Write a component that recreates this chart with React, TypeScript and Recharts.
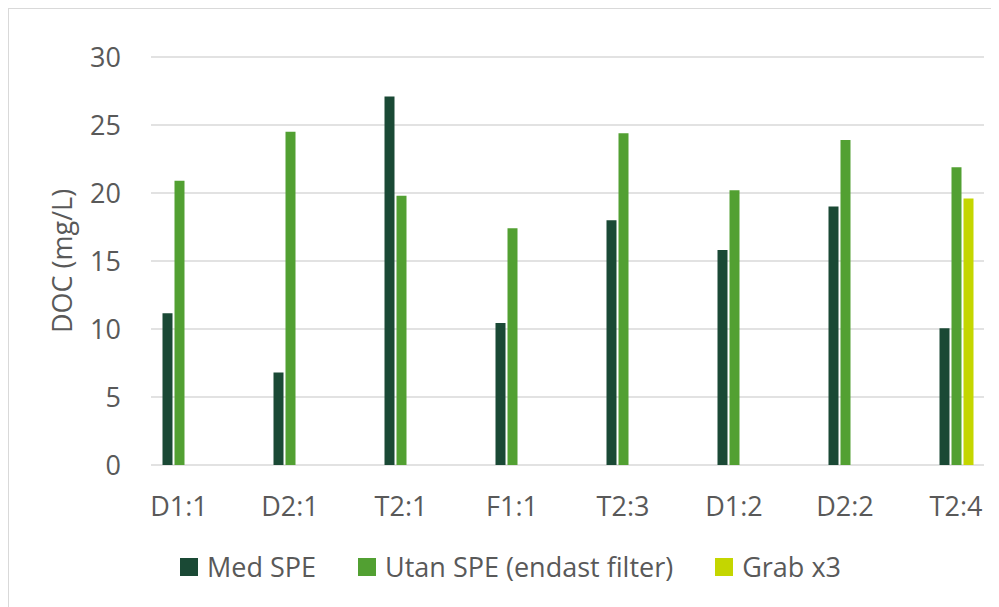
import { BarChart, Bar, XAxis, YAxis, CartesianGrid, Legend, Label } from "recharts";

const categories = ["D1:1", "D2:1", "T2:1", "F1:1", "T2:3", "D1:2", "D2:2", "T2:4"];
const medSpe = [11.15, 6.8, 27.1, 10.45, 18.0, 15.8, 19.0, 10.05];
const utanSpe = [20.9, 24.5, 19.8, 17.4, 24.4, 20.2, 23.9, 21.9];
const grab = [null, null, null, null, null, null, null, 19.6];
const seriesNames = ["Med SPE", "Utan SPE (endast filter)", "Grab x3"];
const yTicks = [0, 5, 10, 15, 20, 25, 30];

const data = categories.map((name, i) => ({
  name,
  med: medSpe[i],
  utan: utanSpe[i],
  grab: grab[i],
}));

const FONT = "'Open Sans', sans-serif";
const TEXT = "#595959";
const GRID = "#d9d9d9";

function LegendRow(props: any) {
  // keep the legend in series order, not alphabetical
  const items = [...(props.payload || [])].sort(
    (a: any, b: any) => seriesNames.indexOf(a.value) - seriesNames.indexOf(b.value)
  );
  return (
    <div
      style={{
        display: "flex",
        alignItems: "center",
        paddingLeft: 171,
        height: 30,
        lineHeight: "30px",
        fontFamily: FONT,
        fontSize: 27,
        color: TEXT,
      }}
    >
      {items.map((it: any) => (
        <div key={it.value} style={{ display: "flex", alignItems: "center", marginRight: 42 }}>
          <span style={{ width: 18, height: 18, background: it.color, marginRight: 9, display: "inline-block" }} />
          <span>{it.value}</span>
        </div>
      ))}
    </div>
  );
}

export default function App() {
  return (
    <div style={{ width: 1000, height: 610, border: `1px solid ${GRID}`, background: "#fff" }}>
      <BarChart
        width={998}
        height={608}
        data={data}
        margin={{ top: 48, right: 23, left: 0, bottom: 62 }}
        barSize={10}
        barGap={2}
      >
        <CartesianGrid vertical={false} stroke={GRID} strokeWidth={1.5} />
        <XAxis
          dataKey="name"
          height={60}
          axisLine={false}
          tickLine={false}
          tickSize={0}
          tickMargin={32}
          padding={{ left: -27.5, right: -27.5 }}
          tick={{ fill: TEXT, fontSize: 27, fontFamily: FONT }}
        />
        <YAxis
          width={142}
          domain={[0, 30]}
          ticks={yTicks}
          axisLine={false}
          tickLine={false}
          tickSize={0}
          tickMargin={30}
          tick={{ fill: TEXT, fontSize: 27, fontFamily: FONT }}
        >
          <Label
            value="DOC (mg/L)"
            angle={-90}
            position="center"
            dx={-17.5}
            style={{ fill: TEXT, fontSize: 27, fontFamily: FONT }}
          />
        </YAxis>
        <Legend
          verticalAlign="bottom"
          content={LegendRow}
          wrapperStyle={{ top: 543, bottom: "auto", left: 0, width: 998 }}
        />
        <Bar dataKey="med" name={seriesNames[0]} fill="#1a4935" isAnimationActive={false} />
        <Bar dataKey="utan" name={seriesNames[1]} fill="#52a032" isAnimationActive={false} />
        <Bar dataKey="grab" name={seriesNames[2]} fill="#c4d600" isAnimationActive={false} />
      </BarChart>
    </div>
  );
}
